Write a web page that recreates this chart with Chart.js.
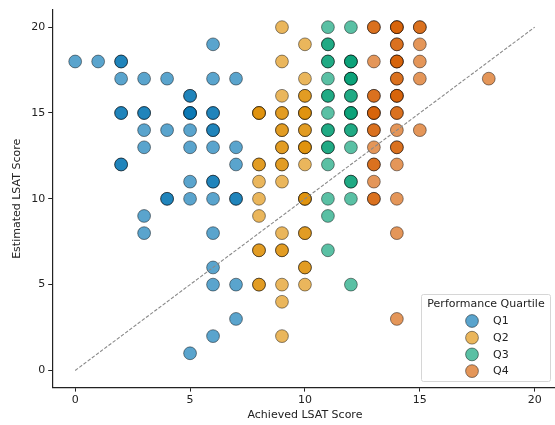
<!DOCTYPE html>
<html>
<head>
<meta charset="utf-8">
<script src="https://cdn.jsdelivr.net/npm/chart.js@4"></script>
<style>
  html, body { margin: 0; padding: 0; background: #fff; }
  #wrap { position: relative; width: 555px; height: 425px; overflow: hidden; }
  #inner { position: absolute; left: 0; top: 0; width: 565px; height: 425px; }
</style>
</head>
<body>
<div id="wrap"><div id="inner"><canvas id="lsatChart"></canvas></div></div>
<script>
// [achieved, estimated, how many students sit on that exact spot]
const q1Points = [
  [0,18,1],[1,18,1],[2,18,2],[2,17,1],[3,17,1],[4,17,1],[2,15,2],[3,15,2],
  [3,14,1],[4,14,1],[3,13,1],[2,12,2],[3,9,1],[3,8,1],[4,10,2],
  [5,16,2],[5,15,3],[5,14,1],[5,13,1],[5,11,1],[5,10,1],[5,1,1],
  [6,19,1],[6,17,1],[6,15,2],[6,14,2],[6,13,1],[6,11,2],[6,10,1],[6,8,1],[6,6,1],[6,5,1],[6,2,1],
  [7,17,1],[7,13,1],[7,12,1],[7,10,2],[7,5,1],[7,3,1]
];
const q2Points = [
  [8,15,3],[8,12,2],[8,11,1],[8,10,1],[8,9,1],[8,7,2],[8,5,2],
  [9,20,1],[9,18,1],[9,16,1],[9,15,2],[9,14,2],[9,13,2],[9,12,2],[9,11,1],[9,8,1],[9,7,2],[9,5,1],[9,4,1],[9,2,1],
  [10,19,1],[10,17,1],[10,16,2],[10,15,3],[10,14,2],[10,13,3],[10,12,1],[10,10,3],[10,8,2],[10,6,2],[10,5,1]
];
const q3Points = [
  [11,20,1],[11,19,2],[11,18,2],[11,17,1],[11,16,2],[11,15,1],[11,14,2],[11,13,2],[11,12,1],[11,10,1],[11,9,1],[11,7,1],
  [12,20,1],[12,18,3],[12,17,3],[12,16,2],[12,15,3],[12,14,2],[12,13,1],[12,11,2],[12,10,1],[12,5,1]
];
const q4Points = [
  [13,20,2],[13,18,1],[13,16,2],[13,15,3],[13,14,2],[13,13,1],[13,12,2],[13,11,1],[13,10,2],
  [14,20,3],[14,19,2],[14,18,3],[14,17,2],[14,16,3],[14,15,2],[14,14,1],[14,13,2],[14,12,1],[14,10,1],[14,8,1],[14,3,1],
  [15,20,2],[15,19,1],[15,18,1],[15,17,1],[15,14,1],
  [18,17,1]
];
const quartileLabels = ['Q1', 'Q2', 'Q3', 'Q4'];
const quartileColors = ['1,115,178', '222,143,5', '2,158,115', '213,94,0'];
const diagonal = [[0,0],[20,20]];
const tickValues = [0, 5, 10, 15, 20];

function expand(points) {
  var out = [];
  points.forEach(function(p) {
    for (var i = 0; i < p[2]; i++) out.push({x: p[0], y: p[1]});
  });
  return out;
}

const font = { family: 'DejaVu Sans', size: 11 };

var datasets = [{
  type: 'line',
  label: 'diag',
  data: diagonal.map(function(p) { return {x: p[0], y: p[1]}; }),
  borderColor: '#8a8a8a',
  borderWidth: 1.1,
  borderDash: [3.5, 1.7],
  pointRadius: 0,
  fill: false,
  order: -1
}];

[q1Points, q2Points, q3Points, q4Points].forEach(function(pts, i) {
  datasets.push({
    label: quartileLabels[i],
    data: expand(pts),
    backgroundColor: 'rgba(' + quartileColors[i] + ',0.65)',
    borderColor: 'rgba(0,0,0,0.5)',
    borderWidth: 0.9,
    pointRadius: 6.4,
    pointHoverRadius: 6.4,
    order: 4 - i
  });
});

// legend box sitting inside the plot, bottom right
const insideLegend = {
  id: 'insideLegend',
  afterDraw: function(chart) {
    var ctx = chart.ctx;
    var x0 = 421, y0 = 294, w = 129, h = 87;
    ctx.save();
    ctx.fillStyle = 'rgba(255,255,255,0.8)';
    ctx.strokeStyle = '#d6d6d6';
    ctx.lineWidth = 1;
    ctx.beginPath();
    ctx.roundRect(x0 + 0.5, y0 + 0.5, w, h, 2);
    ctx.fill();
    ctx.stroke();
    ctx.fillStyle = '#222';
    ctx.font = '11px "DejaVu Sans"';
    ctx.textBaseline = 'middle';
    ctx.textAlign = 'center';
    ctx.fillText('Performance Quartile', x0 + w / 2 + 0.5, y0 + 10);
    ctx.textAlign = 'left';
    quartileLabels.forEach(function(lab, i) {
      var cy = y0 + 27 + i * 16.7;
      ctx.beginPath();
      ctx.arc(472, cy, 6.4, 0, Math.PI * 2);
      ctx.fillStyle = 'rgba(' + quartileColors[i] + ',0.65)';
      ctx.fill();
      ctx.strokeStyle = 'rgba(0,0,0,0.5)';
      ctx.lineWidth = 0.9;
      ctx.stroke();
      ctx.fillStyle = '#222';
      ctx.fillText(lab, 493, cy + 0.5);
    });
    ctx.restore();
  }
};

function axis(title, titlePad, tickPad) {
  return {
    type: 'linear',
    min: -1,
    max: 21,
    afterBuildTicks: function(scale) {
      scale.ticks = tickValues.map(function(v) { return {value: v}; });
    },
    grid: { display: true, drawOnChartArea: false, drawTicks: true, tickLength: 4, color: '#222', lineWidth: 1 },
    border: { display: true, color: '#222', width: 1.2 },
    ticks: { color: '#222', font: font, padding: tickPad },
    title: { display: true, text: title, color: '#222', font: font, padding: titlePad }
  };
}

new Chart(document.getElementById('lsatChart').getContext('2d'), {
  type: 'scatter',
  data: { datasets: datasets },
  options: {
    responsive: true,
    maintainAspectRatio: false,
    animation: false,
    layout: { padding: { top: 10, right: 0, left: 11, bottom: 3 } },
    plugins: {
      legend: { display: false },
      tooltip: { enabled: false }
    },
    scales: {
      x: axis('Achieved LSAT Score', { top: 0, bottom: 0 }, 2),
      y: axis('Estimated LSAT Score', { top: 0, bottom: 4 }, 3)
    }
  },
  plugins: [insideLegend]
});
</script>
</body>
</html>
